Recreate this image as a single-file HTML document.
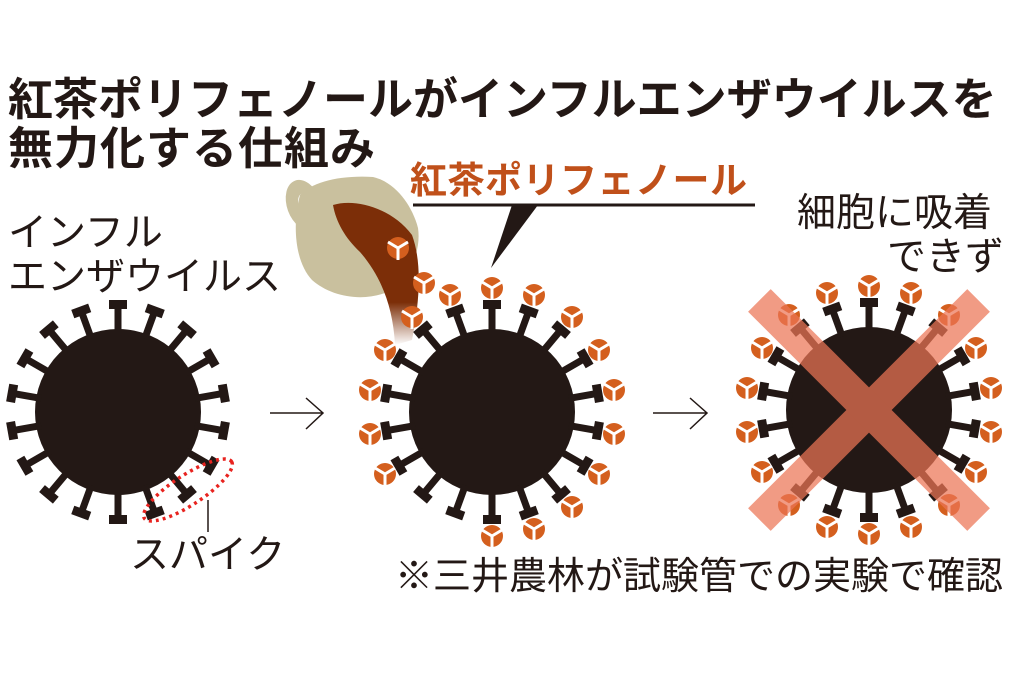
<!DOCTYPE html>
<html><head><meta charset="utf-8"><style>
html,body{margin:0;padding:0;background:#fff}
body{width:1024px;height:683px;position:relative;overflow:hidden;font-family:"Liberation Sans","Noto Sans CJK JP",sans-serif;color:#231815}
.t{position:absolute;white-space:nowrap;line-height:1}
svg{position:absolute;left:0;top:0}
</style></head><body>
<svg width="1024" height="683" viewBox="0 0 1024 683">
<defs>
<g id="sp"><rect x="-3.5" y="-106" width="7" height="28" fill="#231815"/><rect x="-9" y="-112" width="18" height="9" fill="#231815"/></g>
<g id="ball"><circle r="11" fill="#d45f1e"/><path d="M0 0V12M0 0L-10-6M0 0L10-6" stroke="#fff" stroke-width="3"/></g>
<linearGradient id="tea" x1="0" y1="0" x2="0" y2="1"><stop offset="0.7" stop-color="#7c2e08"/><stop offset="1" stop-color="#7c2e08" stop-opacity="0"/></linearGradient>
</defs>
<!-- virus 1 -->
<g transform="translate(118,412)">
<circle r="83" fill="#231815"/>
<use href="#sp" transform="rotate(0)"/><use href="#sp" transform="rotate(20)"/><use href="#sp" transform="rotate(40)"/><use href="#sp" transform="rotate(60)"/><use href="#sp" transform="rotate(80)"/><use href="#sp" transform="rotate(100)"/><use href="#sp" transform="rotate(120)"/><use href="#sp" transform="rotate(140)"/><use href="#sp" transform="rotate(160)"/><use href="#sp" transform="rotate(180)"/><use href="#sp" transform="rotate(200)"/><use href="#sp" transform="rotate(220)"/><use href="#sp" transform="rotate(240)"/><use href="#sp" transform="rotate(260)"/><use href="#sp" transform="rotate(280)"/><use href="#sp" transform="rotate(300)"/><use href="#sp" transform="rotate(320)"/><use href="#sp" transform="rotate(340)"/>
</g>
<ellipse cx="188" cy="490" rx="52" ry="15" transform="rotate(-33 188 490)" fill="none" stroke="#e8231f" stroke-width="3.5" stroke-dasharray="3 4"/>
<line x1="208" y1="500" x2="208" y2="532" stroke="#231815" stroke-width="1.5"/>
<!-- arrows -->
<path d="M270 413H323M306 398L323 413L306 429" fill="none" stroke="#231815" stroke-width="1.5"/>
<path d="M653 413H707M690 398L707 413L690 429" fill="none" stroke="#231815" stroke-width="1.5"/>
<!-- cup -->
<ellipse cx="304" cy="205" rx="17" ry="26" transform="rotate(-20 304 205)" fill="#c9c09e"/>
<ellipse cx="306" cy="206" rx="7" ry="13" transform="rotate(-20 306 206)" fill="#fff"/>
<path d="M300 195C312 182 340 175 373 177C395 182 412 205 418 228C422 255 405 285 385 293C360 302 330 296 312 280C295 262 292 225 300 195Z" fill="#c9c09e"/>
<path d="M333 205C355 198 392 208 412 235C422 262 420 300 412 340L395 345C393 305 380 275 360 252C345 238 336 222 333 205Z" fill="url(#tea)"/>
<!-- pointer -->
<line x1="413" y1="205" x2="755" y2="205" stroke="#231815" stroke-width="3"/>
<path d="M512 205L538 205L491 268Z" fill="#231815"/>
<!-- virus 2 -->
<g transform="translate(492,412)">
<circle r="83" fill="#231815"/>
<use href="#sp" transform="rotate(0)"/><use href="#sp" transform="rotate(20)"/><use href="#sp" transform="rotate(40)"/><use href="#sp" transform="rotate(60)"/><use href="#sp" transform="rotate(80)"/><use href="#sp" transform="rotate(100)"/><use href="#sp" transform="rotate(120)"/><use href="#sp" transform="rotate(140)"/><use href="#sp" transform="rotate(160)"/><use href="#sp" transform="rotate(180)"/><use href="#sp" transform="rotate(200)"/><use href="#sp" transform="rotate(220)"/><use href="#sp" transform="rotate(240)"/><use href="#sp" transform="rotate(260)"/><use href="#sp" transform="rotate(280)"/><use href="#sp" transform="rotate(300)"/><use href="#sp" transform="rotate(320)"/><use href="#sp" transform="rotate(340)"/>
<use href="#ball" x="0" y="-124"/><use href="#ball" x="42" y="-117"/><use href="#ball" x="80" y="-95"/><use href="#ball" x="107" y="-62"/><use href="#ball" x="122" y="-22"/><use href="#ball" x="122" y="22"/><use href="#ball" x="107" y="62"/><use href="#ball" x="80" y="95"/><use href="#ball" x="42" y="117"/><use href="#ball" x="0" y="124"/><use href="#ball" x="-107" y="62"/><use href="#ball" x="-122" y="22"/><use href="#ball" x="-122" y="-22"/><use href="#ball" x="-107" y="-62"/><use href="#ball" x="-80" y="-95"/><use href="#ball" x="-42" y="-117"/>
</g>
<use href="#ball" x="398" y="248"/><use href="#ball" x="424" y="283"/>
<!-- virus 3 -->
<g transform="translate(869,410)">
<circle r="83" fill="#231815"/>
<use href="#sp" transform="rotate(0)"/><use href="#sp" transform="rotate(20)"/><use href="#sp" transform="rotate(40)"/><use href="#sp" transform="rotate(60)"/><use href="#sp" transform="rotate(80)"/><use href="#sp" transform="rotate(100)"/><use href="#sp" transform="rotate(120)"/><use href="#sp" transform="rotate(140)"/><use href="#sp" transform="rotate(160)"/><use href="#sp" transform="rotate(180)"/><use href="#sp" transform="rotate(200)"/><use href="#sp" transform="rotate(220)"/><use href="#sp" transform="rotate(240)"/><use href="#sp" transform="rotate(260)"/><use href="#sp" transform="rotate(280)"/><use href="#sp" transform="rotate(300)"/><use href="#sp" transform="rotate(320)"/><use href="#sp" transform="rotate(340)"/>
<use href="#ball" x="0" y="-124"/><use href="#ball" x="42" y="-117"/><use href="#ball" x="80" y="-95"/><use href="#ball" x="107" y="-62"/><use href="#ball" x="122" y="-22"/><use href="#ball" x="122" y="22"/><use href="#ball" x="107" y="62"/><use href="#ball" x="80" y="95"/><use href="#ball" x="42" y="117"/><use href="#ball" x="0" y="124"/><use href="#ball" x="-42" y="117"/><use href="#ball" x="-80" y="95"/><use href="#ball" x="-107" y="62"/><use href="#ball" x="-122" y="22"/><use href="#ball" x="-122" y="-22"/><use href="#ball" x="-107" y="-62"/><use href="#ball" x="-80" y="-95"/><use href="#ball" x="-42" y="-117"/>
<g opacity="0.72" fill="#ec7555">
<rect x="-16" y="-155" width="32" height="310" transform="rotate(45)"/>
<rect x="-16" y="-155" width="32" height="310" transform="rotate(-45)"/>
</g>
</g>
</svg>
<div class="t" style="left:8px;top:77px;font-size:45px;font-weight:bold;letter-spacing:0px">紅茶ポリフェノールがインフルエンザウイルスを</div>
<div class="t" style="left:8px;top:126px;font-size:45px;font-weight:bold;letter-spacing:1px">無力化する仕組み</div>
<div class="t" style="left:410px;top:162px;font-size:37px;font-weight:bold;color:#c0501a;letter-spacing:0.5px">紅茶ポリフェノール</div>
<div class="t" style="left:797px;top:194px;font-size:39px">細胞に吸着</div>
<div class="t" style="left:887px;top:238px;font-size:39px">できず</div>
<div class="t" style="left:8px;top:214px;font-size:39px">インフル</div>
<div class="t" style="left:8px;top:258px;font-size:39px">エンザウイルス</div>
<div class="t" style="left:130px;top:536px;font-size:39px">スパイク</div>
<div class="t" style="left:395px;top:558px;font-size:38px">※三井農林が試験管での実験で確認</div>
</body></html>
